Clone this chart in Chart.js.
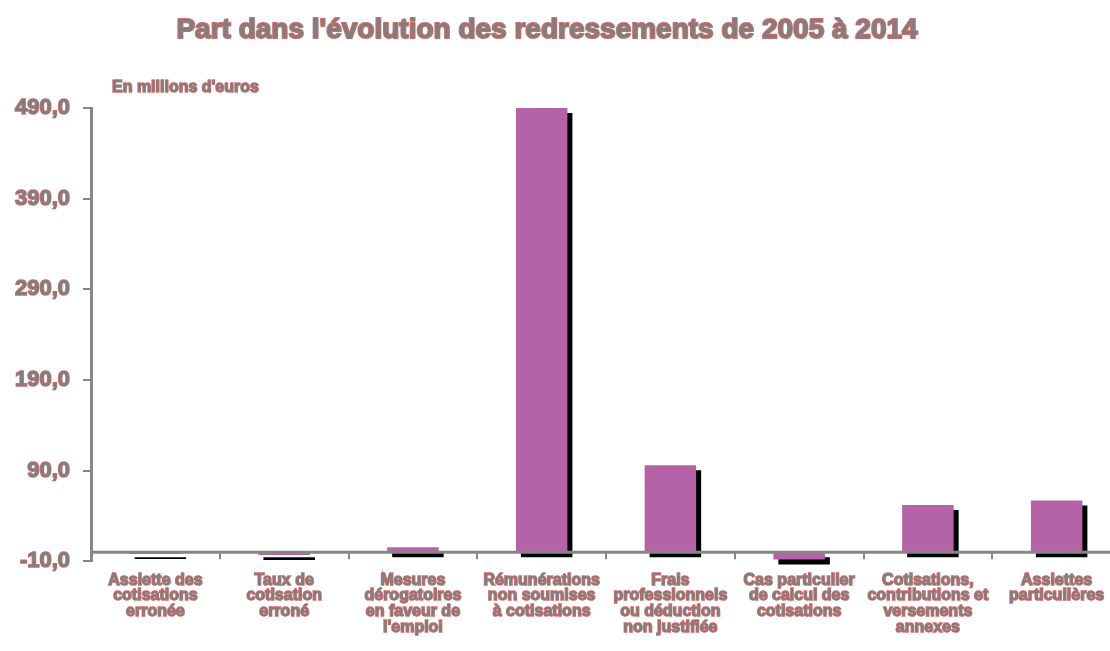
<!DOCTYPE html>
<html>
<head>
<meta charset="utf-8">
<script src="https://cdn.jsdelivr.net/npm/chart.js@4"></script>
<style>
  html, body { margin: 0; padding: 0; background: #fff; overflow: hidden; }
  #wrap { width: 1121px; height: 651px; }
</style>
</head>
<body>
<div id="wrap"><canvas id="barChart"></canvas></div>
<script>
const chartTitle = "Part dans l'évolution des redressements de 2005 à 2014";
const unitLabel = "En millions d'euros";
const categories = [
    ['Assiette des', 'cotisations', 'erronée'],
    ['Taux de', 'cotisation', 'erroné'],
    ['Mesures', 'dérogatoires', 'en faveur de', "l'emploi"],
    ['Rémunérations', 'non soumises', 'à cotisations'],
    ['Frais', 'professionnels', 'ou déduction', 'non justifiée'],
    ['Cas particulier', 'de calcul des', 'cotisations'],
    ['Cotisations,', 'contributions et', 'versements', 'annexes'],
    ['Assiettes', 'particulières']
];
const redressements = [-2, -3, 5.5, 490, 96, -8, 52, 57];
const yMin = -10;
const yMax = 490;
const yStep = 100;

const textGrey = '#7f7f7f';
const textRed = '#d46a6a';
const axisGrey = '#868686';
const fontFamily = "'Liberation Sans', Arial, sans-serif";

// black drop shadow behind the bars
const barShadow = {
    id: 'barShadow',
    beforeDatasetsDraw(chart) {
        const ctx = chart.ctx;
        ctx.save();
        ctx.shadowColor = '#000';
        ctx.shadowOffsetX = 5;
        ctx.shadowOffsetY = 5;
        ctx.shadowBlur = 0;
    },
    afterDatasetsDraw(chart) {
        chart.ctx.restore();
    }
};

// x axis line at zero, category tick marks, title and unit text
const decorations = {
    id: 'decorations',
    afterDatasetsDraw(chart) {
        const ctx = chart.ctx;
        const x = chart.scales.x;
        const y = chart.scales.y;
        const zero = y.getPixelForValue(0);
        ctx.save();
        ctx.strokeStyle = axisGrey;
        ctx.lineWidth = 3;
        ctx.beginPath();
        ctx.moveTo(x.left, zero);
        ctx.lineTo(x.right, zero);
        ctx.stroke();
        ctx.lineWidth = 2;
        const step = x.width / categories.length;
        for (let i = 1; i <= categories.length; i++) {
            const px = Math.round(x.left + i * step);
            ctx.beginPath();
            ctx.moveTo(px, zero);
            ctx.lineTo(px, zero + 7);
            ctx.stroke();
        }

        ctx.textBaseline = 'middle';
        ctx.lineJoin = 'round';
        ctx.font = 'bold 28px ' + fontFamily;
        ctx.textAlign = 'center';
        ctx.lineWidth = 2;
        ctx.strokeStyle = textRed;
        ctx.fillStyle = textGrey;
        ctx.strokeText(chartTitle, 547, 30);
        ctx.fillText(chartTitle, 547, 30);

        ctx.font = 'bold 16px ' + fontFamily;
        ctx.textAlign = 'left';
        ctx.lineWidth = 1.5;
        ctx.strokeText(unitLabel, 112, 88);
        ctx.fillText(unitLabel, 112, 88);
        ctx.restore();
    }
};

new Chart(document.getElementById('barChart'), {
    type: 'bar',
    data: {
        labels: categories,
        datasets: [
            {
                label: 'Redressements',
                data: redressements,
                backgroundColor: '#b363a6',
                borderWidth: 0,
                categoryPercentage: 1,
                barPercentage: 0.4,
                clip: false
            }
        ]
    },
    options: {
        responsive: true,
        maintainAspectRatio: false,
        animation: false,
        layout: {
            padding: { top: 108, left: 2, right: 0, bottom: 13 }
        },
        plugins: {
            legend: { display: false },
            tooltip: { enabled: false }
        },
        scales: {
            x: {
                grid: { display: false },
                border: { display: false },
                ticks: {
                    autoSkip: false,
                    maxRotation: 0,
                    padding: 3,
                    color: textGrey,
                    textStrokeColor: textRed,
                    textStrokeWidth: 1.5,
                    font: { family: fontFamily, size: 16, weight: 'bold', lineHeight: 0.98 }
                }
            },
            y: {
                min: yMin,
                max: yMax,
                grid: {
                    drawOnChartArea: false,
                    drawTicks: true,
                    tickLength: 8,
                    color: axisGrey,
                    lineWidth: 2
                },
                border: { display: true, color: axisGrey, width: 3 },
                ticks: {
                    stepSize: yStep,
                    padding: 13,
                    color: textGrey,
                    textStrokeColor: textRed,
                    textStrokeWidth: 1.5,
                    font: { family: fontFamily, size: 22, weight: 'bold' },
                    callback: value => value.toFixed(1).replace('.', ',')
                }
            }
        }
    },
    plugins: [barShadow, decorations]
});
</script>
</body>
</html>
